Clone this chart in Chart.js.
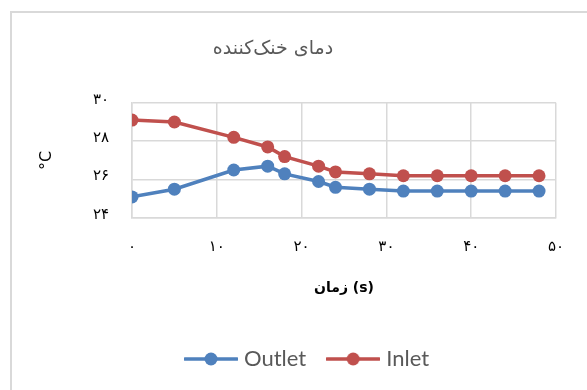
<!DOCTYPE html>
<html>
<head>
<meta charset="utf-8">
<script src="https://cdn.jsdelivr.net/npm/chart.js@4/dist/chart.umd.min.js"></script>
<style>
  html, body { margin: 0; padding: 0; background: #ffffff; }
  #wrap { position: relative; width: 587px; height: 390px; overflow: hidden; }
  #frame { position: absolute; left: 10px; top: 11px; width: 700px; height: 500px;
           border-left: 2px solid #d9d9d9; border-top: 2px solid #d9d9d9; }
  #c { position: absolute; left: 0; top: 0; }
</style>
</head>
<body>
<div id="wrap">
  <div id="frame"></div>
  <canvas id="c" width="587" height="390"></canvas>
</div>
<script>
// Coolant temperature over time (s)
const timeS = [0, 5, 12, 16, 18, 22, 24, 28, 32, 36, 40, 44, 48];
const outletTemp = [25.1, 25.5, 26.5, 26.7, 26.3, 25.9, 25.6, 25.5, 25.4, 25.4, 25.4, 25.4, 25.4];
const inletTemp = [29.1, 29.0, 28.2, 27.7, 27.2, 26.7, 26.4, 26.3, 26.2, 26.2, 26.2, 26.2, 26.2];
const seriesNames = ['Outlet', 'Inlet'];
const seriesColors = ['#4f81bd', '#c0504d'];
const xTickValues = [0, 10, 20, 30, 40, 50];
const xTickLabels = ['۰', '۱۰', '۲۰', '۳۰', '۴۰', '۵۰'];
const yTickValues = [24, 26, 28, 30];
const yTickLabels = ['۲۴', '۲۶', '۲۸', '۳۰'];
const chartTitle = 'دمای خنک‌کننده';
const xTitle = 'زمان (s)';
const yTitle = '°C';

const persianFont = '"DejaVu Sans", sans-serif';

// legend marker: a short line with a dot in the middle
function legendMarker(color) {
  const cv = document.createElement('canvas');
  cv.width = 54; cv.height = 14;
  const g = cv.getContext('2d');
  g.strokeStyle = color; g.lineWidth = 3.5; g.lineCap = 'round';
  g.beginPath(); g.moveTo(1, 7); g.lineTo(53, 7); g.stroke();
  g.fillStyle = color;
  g.beginPath(); g.arc(27, 7, 6.5, 0, Math.PI * 2); g.fill();
  return cv;
}
const markers = seriesColors.map(legendMarker);

function toPoints(values) {
  return timeS.map((t, i) => ({ x: t, y: values[i] }));
}

// shifts the title and legend boxes horizontally after layout
const boxShift = {
  id: 'boxShift',
  afterLayout(chart, args, opts) {
    if (chart.titleBlock) {
      chart.titleBlock.left += opts.title;
      chart.titleBlock.right += opts.title;
    }
    if (chart.legend) {
      chart.legend.left += opts.legend;
      chart.legend.right += opts.legend;
    }
  }
};

new Chart(document.getElementById('c'), {
  type: 'line',
  data: {
    datasets: [outletTemp, inletTemp].map((vals, i) => ({
      label: seriesNames[i],
      data: toPoints(vals),
      borderColor: seriesColors[i],
      backgroundColor: seriesColors[i],
      borderWidth: 3.5,
      pointRadius: 6.5,
      pointHoverRadius: 6.5,
      pointBorderWidth: 0,
      pointBackgroundColor: seriesColors[i],
      tension: 0,
      fill: false
    }))
  },
  options: {
    responsive: false,
    animation: false,
    devicePixelRatio: 1,
    layout: { padding: { left: 22, right: 31, top: 0, bottom: 10 } },
    plugins: {
      boxShift: { title: -16, legend: 20 },
      tooltip: { enabled: false },
      title: {
        display: true,
        text: chartTitle,
        color: '#595959',
        font: { family: persianFont, size: 19, weight: 'normal', lineHeight: 1.2 },
        padding: { top: 38, bottom: 42 }
      },
      legend: {
        position: 'bottom',
        labels: {
          color: '#595959',
          font: { family: 'Lato, sans-serif', size: 22 },
          usePointStyle: true,
          pointStyleWidth: 44,
          padding: 25,
          generateLabels(chart) {
            return chart.data.datasets.map((ds, i) => ({
              text: ds.label,
              pointStyle: markers[i],
              fillStyle: seriesColors[i],
              strokeStyle: seriesColors[i],
              lineWidth: 0,
              fontColor: '#595959',
              hidden: false,
              datasetIndex: i
            }));
          }
        }
      }
    },
    scales: {
      x: {
        type: 'linear',
        min: 0, max: 50,
        afterBuildTicks(scale) { scale.ticks = xTickValues.map(v => ({ value: v })); },
        afterFit(scale) { scale.height = 105; },
        grid: { color: '#d9d9d9', lineWidth: 1.5, drawTicks: false },
        border: { color: '#d9d9d9', width: 1.5 },
        ticks: {
          padding: 20,
          color: '#000000',
          font: { family: persianFont, size: 15 },
          maxRotation: 0,
          callback: (v) => xTickLabels[xTickValues.indexOf(v)]
        },
        title: {
          display: true,
          text: xTitle,
          color: '#000000',
          font: { family: persianFont, size: 14, weight: 'bold', lineHeight: 1.2 },
          padding: { top: 0, bottom: 26 }
        }
      },
      y: {
        min: 24, max: 30,
        afterBuildTicks(scale) { scale.ticks = yTickValues.map(v => ({ value: v })); },
        afterFit(scale) { scale.width = 110; },
        grid: { color: '#d9d9d9', lineWidth: 1.5, drawTicks: false },
        border: { color: '#d9d9d9', width: 1.5 },
        ticks: {
          padding: 23,
          labelOffset: -3,
          color: '#000000',
          font: { family: persianFont, size: 15 },
          callback: (v) => yTickLabels[yTickValues.indexOf(v)]
        },
        title: {
          display: true,
          text: yTitle,
          color: '#000000',
          font: { family: persianFont, size: 16, lineHeight: 1.2 },
          padding: { top: 15, bottom: 0 }
        }
      }
    }
  },
  plugins: [boxShift]
});
</script>
</body>
</html>
